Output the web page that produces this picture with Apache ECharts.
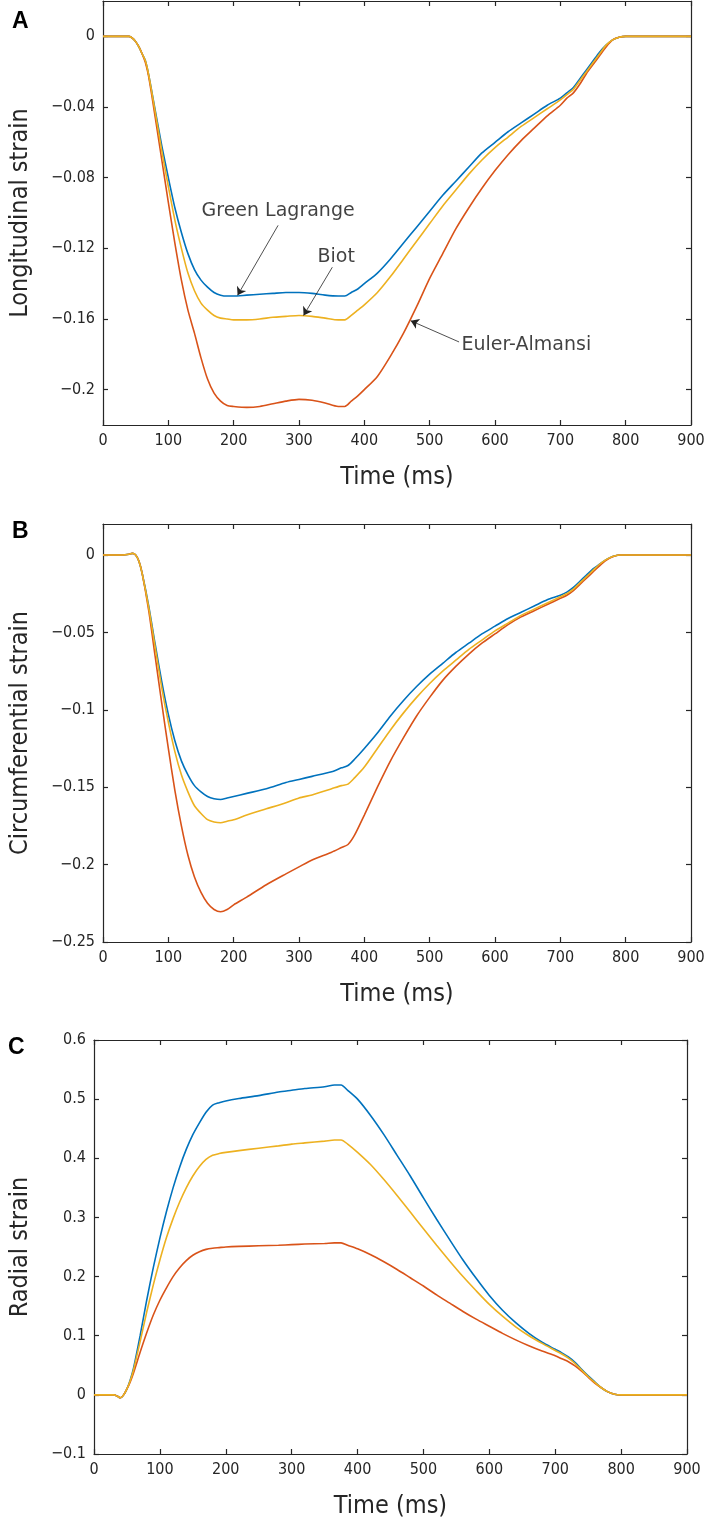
<!DOCTYPE html>
<html>
<head>
<meta charset="utf-8">
<script src="https://cdn.jsdelivr.net/npm/echarts@6/dist/echarts.min.js"></script>
<style>html,body{margin:0;padding:0;background:#fff;}#c{width:709px;height:1520px;}</style>
</head>
<body>
<div id="c"></div>
<script>
// ---------- DATA ----------
var xTicks = [0,100,200,300,400,500,600,700,800,900];

// Panel A: Longitudinal strain
var tA = [0,20,40,45,50,55,60,65,70,80,90,100,110,120,130,140,150,160,170,180,190,200,220,240,260,280,300,320,340,360,370,380,390,400,420,440,460,480,500,520,540,560,580,600,620,640,660,680,700,710,720,730,740,750,760,770,780,790,800,820,850,900];
var aGreen = [0,0,0,-0.001,-0.003,-0.006,-0.010,-0.014,-0.022,-0.042,-0.062,-0.080,-0.097,-0.111,-0.123,-0.132,-0.138,-0.142,-0.145,-0.1465,-0.147,-0.147,-0.1465,-0.146,-0.1455,-0.145,-0.145,-0.1455,-0.1465,-0.147,-0.147,-0.145,-0.143,-0.140,-0.134,-0.126,-0.117,-0.108,-0.099,-0.090,-0.082,-0.074,-0.066,-0.060,-0.054,-0.049,-0.044,-0.039,-0.035,-0.032,-0.029,-0.024,-0.019,-0.014,-0.009,-0.005,-0.002,-0.0005,0,0,0,0];
var aEuler = [0,0,0,-0.001,-0.003,-0.006,-0.010,-0.015,-0.023,-0.046,-0.070,-0.094,-0.117,-0.138,-0.155,-0.168,-0.182,-0.194,-0.202,-0.2065,-0.209,-0.2095,-0.210,-0.2095,-0.208,-0.2065,-0.2055,-0.206,-0.2075,-0.2095,-0.2095,-0.2065,-0.2035,-0.200,-0.1925,-0.181,-0.168,-0.153,-0.137,-0.123,-0.109,-0.097,-0.086,-0.076,-0.067,-0.059,-0.052,-0.045,-0.039,-0.035,-0.032,-0.027,-0.021,-0.016,-0.011,-0.006,-0.002,-0.0005,0,0,0,0];
var aBiot = [0,0,0,-0.001,-0.003,-0.006,-0.010,-0.014,-0.022,-0.043,-0.065,-0.085,-0.104,-0.120,-0.134,-0.144,-0.151,-0.155,-0.158,-0.1595,-0.160,-0.1605,-0.1605,-0.160,-0.159,-0.1585,-0.158,-0.1585,-0.1595,-0.1605,-0.1605,-0.158,-0.155,-0.152,-0.145,-0.136,-0.126,-0.116,-0.106,-0.096,-0.087,-0.078,-0.070,-0.063,-0.057,-0.051,-0.046,-0.041,-0.036,-0.033,-0.030,-0.025,-0.020,-0.015,-0.010,-0.005,-0.002,-0.0005,0,0,0,0];
var yTicksA = [0,-0.04,-0.08,-0.12,-0.16,-0.2];

// Panel B: Circumferential strain
var tB = [0,20,30,40,45,50,55,60,70,80,90,100,110,120,130,140,150,160,170,180,190,200,220,250,280,300,320,350,365,375,385,400,420,440,460,480,500,520,540,560,580,600,620,640,660,680,700,710,720,730,740,750,760,770,780,790,800,850,900];
var bGreen = [0,0,0,0.0005,0.001,0,-0.004,-0.012,-0.033,-0.058,-0.082,-0.103,-0.120,-0.133,-0.142,-0.149,-0.153,-0.156,-0.1575,-0.158,-0.157,-0.156,-0.154,-0.151,-0.147,-0.145,-0.143,-0.140,-0.1375,-0.136,-0.132,-0.125,-0.115,-0.104,-0.094,-0.085,-0.077,-0.070,-0.063,-0.057,-0.051,-0.046,-0.041,-0.037,-0.033,-0.029,-0.026,-0.024,-0.021,-0.017,-0.013,-0.009,-0.006,-0.003,-0.001,0,0,0,0];
var bEuler = [0,0,0,0.0005,0.001,0,-0.004,-0.012,-0.036,-0.066,-0.096,-0.125,-0.152,-0.175,-0.194,-0.208,-0.218,-0.225,-0.229,-0.2305,-0.229,-0.226,-0.221,-0.213,-0.206,-0.2015,-0.197,-0.192,-0.189,-0.187,-0.181,-0.168,-0.150,-0.133,-0.118,-0.104,-0.092,-0.081,-0.072,-0.064,-0.057,-0.051,-0.045,-0.040,-0.036,-0.032,-0.028,-0.026,-0.023,-0.019,-0.015,-0.011,-0.007,-0.0035,-0.0012,0,0,0,0];
var bBiot = [0,0,0,0.0005,0.001,0,-0.004,-0.012,-0.034,-0.060,-0.086,-0.108,-0.127,-0.142,-0.153,-0.162,-0.167,-0.171,-0.1725,-0.173,-0.172,-0.171,-0.168,-0.164,-0.160,-0.157,-0.155,-0.151,-0.149,-0.148,-0.144,-0.137,-0.125,-0.113,-0.102,-0.092,-0.083,-0.075,-0.068,-0.061,-0.055,-0.049,-0.044,-0.039,-0.035,-0.031,-0.027,-0.025,-0.022,-0.018,-0.014,-0.010,-0.006,-0.003,-0.001,0,0,0,0];
var yTicksB = [0,-0.05,-0.1,-0.15,-0.2,-0.25];

// Panel C: Radial strain
var tC = [0,20,30,35,40,45,50,55,60,70,80,90,100,110,120,130,140,150,160,170,180,190,200,220,250,280,300,320,350,365,375,385,400,420,440,460,480,500,520,540,560,580,600,620,640,660,680,700,710,720,730,740,750,760,770,780,790,800,850,900];
var cGreen = [0,0,0,-0.002,-0.005,0,0.010,0.025,0.045,0.100,0.160,0.215,0.265,0.310,0.350,0.385,0.415,0.440,0.460,0.478,0.490,0.494,0.497,0.501,0.506,0.512,0.515,0.518,0.521,0.524,0.524,0.515,0.500,0.472,0.440,0.405,0.370,0.333,0.297,0.262,0.228,0.197,0.168,0.143,0.122,0.104,0.089,0.077,0.071,0.064,0.055,0.043,0.032,0.022,0.012,0.005,0.001,0,0,0];
var cEuler = [0,0,0,-0.002,-0.005,0,0.010,0.022,0.037,0.072,0.105,0.135,0.160,0.181,0.200,0.215,0.227,0.236,0.242,0.246,0.248,0.249,0.250,0.251,0.252,0.253,0.254,0.255,0.256,0.257,0.257,0.253,0.247,0.237,0.225,0.212,0.198,0.184,0.169,0.155,0.141,0.128,0.116,0.104,0.093,0.083,0.074,0.066,0.061,0.056,0.049,0.040,0.030,0.020,0.012,0.005,0.001,0,0,0];
var cBiot = [0,0,0,-0.002,-0.005,0,0.010,0.024,0.042,0.090,0.140,0.186,0.228,0.266,0.298,0.326,0.350,0.370,0.386,0.398,0.405,0.408,0.410,0.413,0.417,0.421,0.424,0.426,0.429,0.431,0.431,0.424,0.410,0.389,0.364,0.337,0.309,0.281,0.253,0.226,0.200,0.176,0.153,0.133,0.115,0.100,0.087,0.075,0.069,0.062,0.053,0.042,0.031,0.021,0.012,0.005,0.001,0,0,0];
var yTicksC = [-0.1,0,0.1,0.2,0.3,0.4,0.5,0.6];

// Annotations in panel A (text centre, arrow start, arrow tip) in data units
var annText = ['Green Lagrange','Biot','Euler-Almansi'];
var annTextPos = [[268,-0.099],[357,-0.125],[648,-0.175]];
var annFrom = [[268,-0.107],[351,-0.1307],[545,-0.173]];
var annTo = [[206,-0.1466],[307,-0.158],[471,-0.161]];

var panelLetters = ['A','B','C'];
var yNames = ['Longitudinal strain','Circumferential strain','Radial strain'];
var xName = 'Time (ms)';

// ---------- STYLE / LAYOUT ----------
var FONT = "'DejaVu Sans Condensed','DejaVu Sans',sans-serif";
var FONT_ANN = "'DejaVu Sans',sans-serif";
var INK = '#262626';
var COLORS = {green:'#0072BD', euler:'#D95319', biot:'#EDB120'};
var grids = [
  {left:101, top:1, width:590, height:424},
  {left:101, top:524, width:590, height:418},
  {left:92, top:1040, width:595, height:416}
];
var yRanges = [[-0.22,0.02],[-0.25,0.02],[-0.1,0.6]];
var yTickSets = [yTicksA, yTicksB, yTicksC];
var yNameGaps = [70, 70, 61];

function fmt(v){ return v < 0 ? '\u2212' + String(Math.abs(v)) : String(v); }

var xAxes = [], yAxes = [], series = [];
grids.forEach(function(g, i){
  var axLine = {show:true, onZero:false, lineStyle:{color:INK, width:1.2}};
  var tick = {show:true, inside:true, length:5, lineStyle:{color:INK, width:1.2}};
  xAxes.push({type:'value', gridIndex:i, min:0, max:900, position:'bottom',
    axisLine:axLine, axisTick:Object.assign({customValues:xTicks}, tick),
    axisLabel:{customValues:xTicks, color:INK, fontSize:16, fontFamily:FONT, margin:8},
    splitLine:{show:false}, name:xName, nameLocation:'middle', nameGap:40,
    nameTextStyle:{color:INK, fontSize:25, fontFamily:FONT}});
  xAxes.push({type:'value', gridIndex:i, min:0, max:900, position:'top',
    axisLine:axLine, axisTick:Object.assign({customValues:xTicks}, tick),
    axisLabel:{show:false}, splitLine:{show:false}});
  yAxes.push({type:'value', gridIndex:i, min:yRanges[i][0], max:yRanges[i][1], position:'left',
    axisLine:axLine, axisTick:Object.assign({customValues:yTickSets[i]}, tick),
    axisLabel:{customValues:yTickSets[i], formatter:fmt, color:INK, fontSize:16, fontFamily:FONT, margin:8},
    splitLine:{show:false}, name:yNames[i], nameLocation:'middle', nameGap:yNameGaps[i],
    nameTextStyle:{color:INK, fontSize:25, fontFamily:FONT}});
  yAxes.push({type:'value', gridIndex:i, min:yRanges[i][0], max:yRanges[i][1], position:'right',
    axisLine:axLine, axisTick:Object.assign({customValues:yTickSets[i]}, tick),
    axisLabel:{show:false}, splitLine:{show:false}});
});

function zip(t, v){ return t.map(function(x, k){ return [x, v[k]]; }); }
function lineSeries(i, t, v, color){
  return {type:'line', xAxisIndex:2*i, yAxisIndex:2*i, data:zip(t, v), showSymbol:false,
    smooth:0.25, lineStyle:{color:color, width:1.6}, itemStyle:{color:color}, silent:true};
}
var panelData = [[tA,aGreen,aEuler,aBiot],[tB,bGreen,bEuler,bBiot],[tC,cGreen,cEuler,cBiot]];
panelData.forEach(function(p, i){
  series.push(lineSeries(i, p[0], p[1], COLORS.green));
  series.push(lineSeries(i, p[0], p[2], COLORS.euler));
  series.push(lineSeries(i, p[0], p[3], COLORS.biot));
});

// annotation text + arrows
series.push({type:'scatter', xAxisIndex:0, yAxisIndex:0, symbolSize:1, silent:true, z:5,
  itemStyle:{color:'transparent'},
  data: annTextPos.map(function(p, k){ return {value:p, name:annText[k]}; }),
  label:{show:true, position:'inside', formatter:'{b}', color:'#111', fontSize:19, fontFamily:FONT_ANN},
  markLine:{silent:true, symbol:['none','arrow'], symbolSize:8, animation:false, z:6,
    lineStyle:{color:'#222', width:0.8, type:'solid'}, itemStyle:{color:'#222'}, label:{show:false},
    data: annFrom.map(function(f, k){ return [{coord:f}, {coord:annTo[k]}]; })}
});

var letterTops = [10, 520, 1036];
var graphics = panelLetters.map(function(L, k){
  return {type:'text', left:[12,12,8][k], top:letterTops[k],
    style:{text:L, font:"bold 23px 'Liberation Sans', Arial, sans-serif", fill:'#000'}};
});

var chart = echarts.init(document.getElementById('c'), null, {renderer:'canvas'});
chart.setOption({
  animation:false,
  backgroundColor:'#fff',
  grid:grids.map(function(g){ return Object.assign({containLabel:false}, g); }),
  xAxis:xAxes, yAxis:yAxes, series:series, graphic:graphics
});
</script>
</body>
</html>
